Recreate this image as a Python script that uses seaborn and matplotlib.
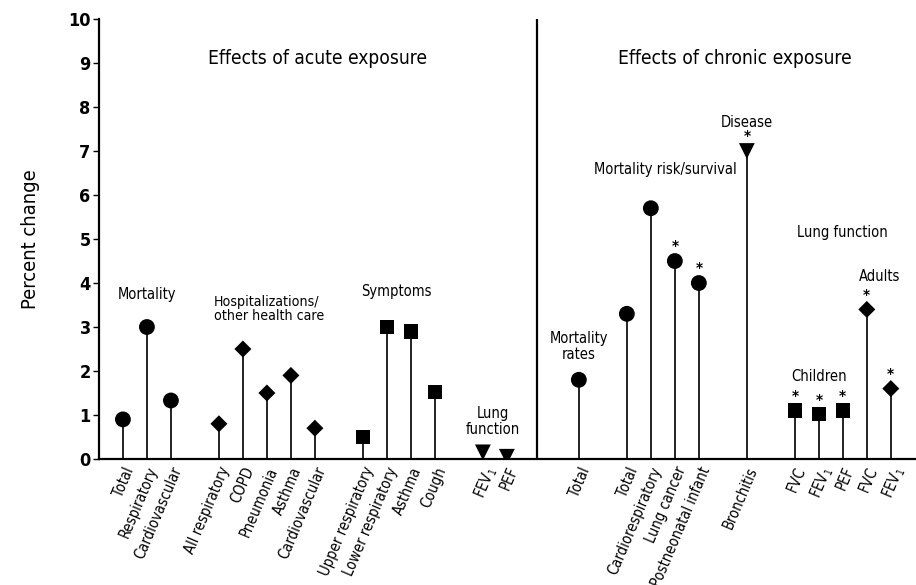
import numpy as np
import pandas as pd
import matplotlib
matplotlib.use("Agg")
import matplotlib.pyplot as plt
import seaborn as sns

# category order along the x axis, None = empty slot
slots = ["Total", "Respiratory", "Cardiovascular", None,
         "All respiratory", "COPD", "Pneumonia", "Asthma", "Cardiovascular", None,
         "Upper respiratory", "Lower respiratory", "Asthma", "Cough", None,
         "FEV$_1$", "PEF", None, None,
         "Total", None,
         "Total", "Cardiorespiratory", "Lung cancer", "Postneonatal infant", None,
         "Bronchitis", None,
         "FVC", "FEV$_1$", "PEF", "FVC", "FEV$_1$"]

values = [0.9, 3.0, 1.33,
          0.8, 2.5, 1.5, 1.9, 0.7,
          0.5, 3.0, 2.9, 1.52,
          0.15, 0.05,
          1.8,
          3.3, 5.7, 4.5, 4.0,
          7.0,
          1.1, 1.02, 1.1, 3.4, 1.6]

shapes = ["circle"] * 3 + ["diamond"] * 5 + ["square"] * 4 + ["triangle"] * 2 + \
         ["circle"] * 5 + ["triangle"] + ["square"] * 3 + ["diamond"] * 2

significant = [False] * 17 + [True, True, True] + [True] * 5

positions = [i for i, s in enumerate(slots) if s is not None]
labels = [s for s in slots if s is not None]

df = pd.DataFrame({"pos": positions, "label": labels, "value": values,
                   "shape": shapes, "sig": significant})

sns.set_style("ticks")
plt.rcParams["font.family"] = ["DejaVu Sans"]
plt.rcParams["font.stretch"] = "condensed"
plt.rcParams["mathtext.fontset"] = "dejavusans"
for key in ["text.color", "axes.labelcolor", "xtick.color", "ytick.color", "axes.edgecolor"]:
    plt.rcParams[key] = "black"

fig = plt.figure(figsize=(9.16, 5.85), dpi=100)
ax = fig.add_axes([0.108, 0.2154, 0.892, 0.752])

ax.vlines(df["pos"], 0, df["value"], color="#111111", lw=1.3, zorder=1)
sns.scatterplot(data=df, x="pos", y="value", style="shape", size="shape",
                markers={"circle": "o", "diamond": "D", "square": "s", "triangle": "v"},
                sizes={"circle": 130, "diamond": 75, "square": 110, "triangle": 130},
                color="black", edgecolor="none", legend=False, zorder=3, ax=ax)

for _, r in df[df["sig"]].iterrows():
    ax.annotate("*", (r["pos"], r["value"]), xytext=(0, 4), textcoords="offset points",
                ha="center", va="bottom", fontsize=11, fontweight="bold")

# divider between acute and chronic
ax.axvline(17.25, ymin=0, ymax=1, color="black", lw=1.6)

ax.set_xlim(-1, 33.05)
ax.set_ylim(0, 10)
ax.set_yticks(range(0, 11))
ax.set_yticklabels([str(i) for i in range(0, 11)], fontsize=13, fontweight="bold")
ax.set_xticks(df["pos"])
ax.set_xticklabels(df["label"], rotation=67, ha="right", rotation_mode="anchor",
                   fontsize=10.5)
ax.tick_params(axis="x", length=0, pad=4)
ax.tick_params(axis="y", length=4, width=1, direction="out", pad=2)
ax.set_xlabel("")
ax.set_ylabel("Percent change", fontsize=14.5, labelpad=20)
sns.despine(ax=ax)
for sp in ["left", "bottom"]:
    ax.spines[sp].set_linewidth(1.6)

ax.text(8.1, 9.11, "Effects of acute exposure", ha="center", va="center", fontsize=13.8)
ax.text(25.5, 9.11, "Effects of chronic exposure", ha="center", va="center", fontsize=13.8)

kw = dict(ha="center", va="center", fontsize=10.5)
ax.text(1, 3.75, "Mortality", **kw)
ax.text(3.8, 3.41, "Hospitalizations/\nother health care", ha="left", va="center",
        fontsize=10.2, linespacing=1.05)
ax.text(11.4, 3.8, "Symptoms", **kw)
ax.text(15.4, 0.85, "Lung\nfunction", linespacing=1.05, **kw)
ax.text(19, 2.56, "Mortality\nrates", linespacing=1.05, **kw)
ax.text(22.6, 6.57, "Mortality risk/survival", **kw)
ax.text(26, 7.64, "Disease", **kw)
ax.text(30, 5.14, "Lung function", **kw)
ax.text(31.55, 4.14, "Adults", **kw)
ax.text(29, 1.87, "Children", **kw)

fig.savefig("out.png", dpi=100)
